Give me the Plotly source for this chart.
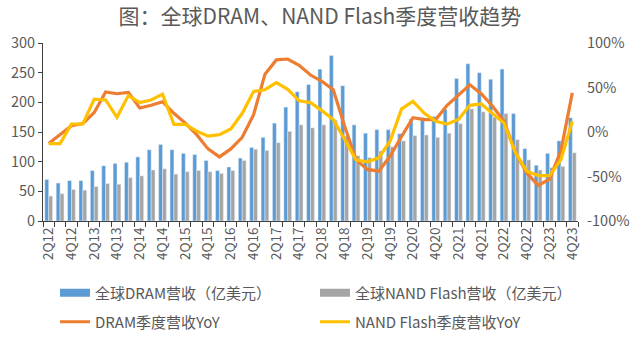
import plotly.graph_objects as go

# Quarter labels (every other one is shown on the axis)
quarters = [
    "2Q12", "3Q12", "4Q12",
    "1Q13", "2Q13", "3Q13", "4Q13",
    "1Q14", "2Q14", "3Q14", "4Q14",
    "1Q15", "2Q15", "3Q15", "4Q15",
    "1Q16", "2Q16", "3Q16", "4Q16",
    "1Q17", "2Q17", "3Q17", "4Q17",
    "1Q18", "2Q18", "3Q18", "4Q18",
    "1Q19", "2Q19", "3Q19", "4Q19",
    "1Q20", "2Q20", "3Q20", "4Q20",
    "1Q21", "2Q21", "3Q21", "4Q21",
    "1Q22", "2Q22", "3Q22", "4Q22",
    "1Q23", "2Q23", "3Q23", "4Q23",
]

# Global quarterly revenue, 100M USD
dram_rev = [70, 64, 68, 68, 85, 93, 97, 99, 108, 120, 129,
            120, 114, 112, 102, 85, 91, 106, 124, 141, 165, 192, 218,
            230, 256, 279, 228, 162, 148, 154, 154, 147, 172, 174, 176,
            188, 240, 265, 250, 239, 256, 181, 122, 94, 114, 135, 174]
nand_rev = [42, 46, 53, 52, 58, 63, 62, 73, 76, 86, 88,
            79, 83, 85, 83, 80, 85, 102, 121, 119, 132, 151, 162,
            157, 162, 170, 143, 110, 107, 118, 125, 135, 144, 145, 141,
            148, 164, 189, 184, 175, 181, 137, 103, 86, 90, 92, 115]

# Year-over-year growth, %
dram_yoy = [-13, -3, 7, 9.5, 22, 45, 43, 44.5, 27, 30, 34,
            21, 10, -3, -19, -28, -19, -6, 19.5, 65, 81, 82, 75,
            64, 57, 47.5, 6.5, -31, -42, -44, -27, -5, 16, 14, 14,
            30, 41, 53, 43, 29, 12, -23, -46, -60, -53, -21, 44]
nand_yoy = [-13, -13, 9, 9, 37, 36, 16.5, 41, 33, 36, 42.5,
            8.5, 8.5, 1, -4.5, -3, 3.5, 21, 45.5, 47.5, 55.5, 48, 35,
            33, 24, 14, -8.5, -31.5, -33.5, -29, -10, 26, 34.5, 21, 12,
            9, 14, 30, 31.5, 21, 10, -23, -44, -49, -49, -31, 12]

left_ticks = [0, 50, 100, 150, 200, 250, 300]
right_ticks = [-100, -50, 0, 50, 100]
right_labels = ["-100%", "-50%", "0%", "50%", "100%"]

TXT = "#595959"
FONT = "Noto Sans CJK SC"
BLUE = "#5B9BD5"
GREY = "#A5A5A5"

fig = go.Figure()
fig.add_bar(x=quarters, y=dram_rev, name="全球DRAM营收（亿美元）",
            marker_color=BLUE, legendgroup="dram_rev", showlegend=False)
fig.add_bar(x=quarters, y=nand_rev, name="全球NAND Flash营收（亿美元）",
            marker_color=GREY, legendgroup="nand_rev", showlegend=False)

# Legend keys for the bar series, drawn as wide flat swatches
fig.add_scatter(x=[None], y=[None], mode="lines", name="全球DRAM营收（亿美元）",
                line=dict(color=BLUE, width=8), legendgroup="dram_rev",
                legend="legend", hoverinfo="skip")
fig.add_scatter(x=[None], y=[None], mode="lines", name="全球NAND Flash营收（亿美元）",
                line=dict(color=GREY, width=8), legendgroup="nand_rev",
                legend="legend", hoverinfo="skip")

fig.add_scatter(x=quarters, y=dram_yoy, name="DRAM季度营收YoY", yaxis="y2",
                mode="lines", line=dict(color="#ED7D31", width=3.2),
                legend="legend2")
fig.add_scatter(x=quarters, y=nand_yoy, name="NAND Flash季度营收YoY", yaxis="y2",
                mode="lines", line=dict(color="#FFC000", width=3.2),
                legend="legend2")

tick_text = [q if i % 2 == 0 else "" for i, q in enumerate(quarters)]

legend_common = dict(orientation="h", xref="container", yref="container",
                     xanchor="left", yanchor="middle",
                     entrywidth=215, entrywidthmode="pixels",
                     font=dict(family=FONT, size=15, color=TXT),
                     bgcolor="rgba(0,0,0,0)", itemclick=False)

fig.update_layout(
    width=640, height=337,
    margin=dict(l=43, r=62, t=43, b=116, autoexpand=False),
    paper_bgcolor="white", plot_bgcolor="white",
    font=dict(family=FONT, color=TXT, size=14),
    title=dict(text="图：全球DRAM、NAND Flash季度营收趋势",
               x=0.5, xanchor="center", y=1 - 17 / 337, yanchor="middle",
               xref="container", yref="container",
               font=dict(family=FONT, size=21, color=TXT)),
    barmode="group", bargap=0.32, bargroupgap=0,
    xaxis=dict(type="category", tickmode="array", tickvals=quarters,
               ticktext=tick_text, tickangle=-90, tickson="boundaries",
               ticks="outside", ticklen=5, tickcolor="#404040",
               showline=True, linecolor="#404040", linewidth=1,
               showgrid=False, tickfont=dict(size=13.5, color=TXT),
               automargin=False),
    yaxis=dict(range=[0, 300], tickvals=left_ticks, ticks="outside",
               ticklen=4, tickcolor="#404040", showline=True,
               linecolor="#404040", linewidth=1, showgrid=False,
               zeroline=False, tickfont=dict(size=14.5, color=TXT),
               automargin=False),
    yaxis2=dict(range=[-100, 100], overlaying="y", side="right",
                tickvals=right_ticks, ticktext=right_labels,
                showgrid=False, zeroline=False, showline=False,
                ticks="", ticklabelstandoff=8,
                tickfont=dict(size=14.5, color=TXT), automargin=False),
    legend=dict(x=55 / 640, y=1 - 293 / 337, **legend_common),
    legend2=dict(x=55 / 640, y=1 - 322 / 337, **legend_common),
    showlegend=True,
)

fig.write_html("out.html")
